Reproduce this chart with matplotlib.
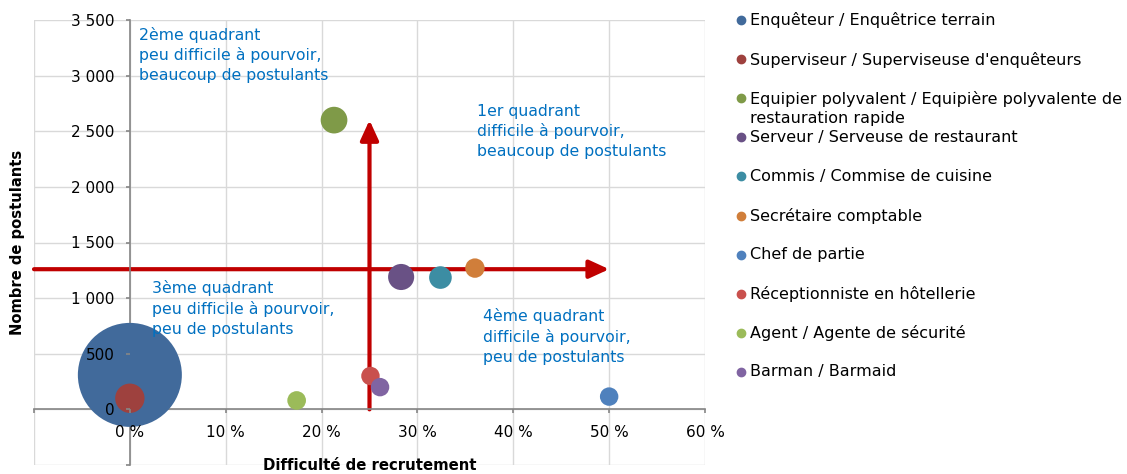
import matplotlib
matplotlib.use("Agg")
import matplotlib.pyplot as plt
from matplotlib.lines import Line2D
from matplotlib.ticker import FuncFormatter

plt.rcParams['font.family'] = ['DejaVu Sans']

# ---- data ----
metiers = [
    "Enquêteur / Enquêtrice terrain",
    "Superviseur / Superviseuse d'enquêteurs",
    "Equipier polyvalent / Equipière polyvalente de\nrestauration rapide",
    "Serveur / Serveuse de restaurant",
    "Commis / Commise de cuisine",
    "Secrétaire comptable",
    "Chef de partie",
    "Réceptionniste en hôtellerie",
    "Agent / Agente de sécurité",
    "Barman / Barmaid",
]
difficulte = [0.0, 0.0, 21.3, 28.3, 32.4, 36.0, 50.0, 25.1, 17.4, 26.1]   # %
postulants = [310, 100, 2600, 1190, 1185, 1270, 115, 300, 80, 200]
taille = [2700, 215, 178, 170, 128, 94, 85, 85, 87, 85]
couleurs = ["#416A9B", "#9E413E", "#7F9A48", "#695185", "#3C8DA3",
            "#D07E3A", "#4F81BD", "#C9504D", "#9BBB59", "#8064A2"]

x_ticks = [-10, 0, 10, 20, 30, 40, 50, 60]
y_ticks = [-500, 0, 500, 1000, 1500, 2000, 2500, 3000, 3500]

seuil_x = 25       # séparation difficulté
seuil_y = 1260     # séparation postulants

quadrants = [
    ("2ème quadrant\npeu difficile à pourvoir,\nbeaucoup de postulants", 0.97, 3440),
    ("1er quadrant\ndifficile à pourvoir,\nbeaucoup de postulants", 36.2, 2748),
    ("3ème quadrant\npeu difficile à pourvoir,\npeu de postulants", 2.3, 1160),
    ("4ème quadrant\ndifficile à pourvoir,\npeu de postulants", 36.8, 907),
]

# ---- figure ----
W, H = 1127, 474
fig = plt.figure(figsize=(W / 100, H / 100), dpi=100)
ax = fig.add_axes([34 / W, 1 - 465 / H, (705 - 34) / W, (465 - 20) / H])

ax.set_xlim(-10, 60)
ax.set_ylim(-500, 3500)

# gridlines
for xv in x_ticks:
    ax.axvline(xv, color="#D9D9D9", lw=1, zorder=0.5)
for yv in y_ticks:
    ax.axhline(yv, color="#D9D9D9", lw=1, zorder=0.5)

# axes crossing at origin
for s in ["top", "right"]:
    ax.spines[s].set_visible(False)
ax.spines["left"].set_position(("data", 0))
ax.spines["bottom"].set_position(("data", 0))
for s in ["left", "bottom"]:
    ax.spines[s].set_color("#868686")
    ax.spines[s].set_linewidth(1.2)
    ax.spines[s].set_zorder(2.5)

ax.set_xticks(x_ticks)
ax.set_yticks(y_ticks)
ax.xaxis.set_major_formatter(FuncFormatter(lambda v, p: "" if v < 0 else f"{int(v)} %"))
ax.yaxis.set_major_formatter(FuncFormatter(
    lambda v, p: "" if v < 0 else f"{int(v):,}".replace(",", " ")))
ax.tick_params(axis="both", direction="out", length=3, width=1.2, color="#868686",
               labelsize=11, labelcolor="black")
ax.tick_params(axis="x", pad=8)
ax.tick_params(axis="y", pad=8)
ax.xaxis.set_zorder(4)
ax.yaxis.set_zorder(4)

# red arrows
ax.annotate("", xy=(50, seuil_y), xytext=(-10, seuil_y),
            arrowprops=dict(arrowstyle="-|>,head_length=1.2,head_width=0.55",
                            color="#C00000", lw=3, shrinkA=0, shrinkB=0), zorder=2)
ax.annotate("", xy=(seuil_x, 2600), xytext=(seuil_x, 0),
            arrowprops=dict(arrowstyle="-|>,head_length=1.2,head_width=0.55",
                            color="#C00000", lw=3, shrinkA=0, shrinkB=0), zorder=2)

# bubbles
k = (104 * 0.72) ** 2 / max(taille)
ax.scatter(difficulte, postulants, s=[t * k for t in taille], c=couleurs,
           linewidths=0, zorder=3, clip_on=False)

# quadrant texts
for txt, xq, yq in quadrants:
    ax.text(xq, yq, txt, color="#0070C0", fontsize=11.3, va="top", ha="left",
            linespacing=1.37, zorder=5)

# axis titles
fig.text(18 / W, 1 - 242 / H, "Nombre de postulants", rotation=90, fontsize=10.6,
         fontweight="bold", ha="center", va="center")
fig.text(370 / W, 1 - 465 / H, "Difficulté de recrutement", fontsize=10.7,
         fontweight="bold", ha="center", va="center")

# legend (manual, Excel style)
top = 20
step = 39.1
for i, (lab, col) in enumerate(zip(metiers, couleurs)):
    yc = top + i * step
    fig.add_artist(Line2D([741 / W], [1 - yc / H], marker="o", markersize=6,
                          color=col, linestyle="none", transform=fig.transFigure))
    fig.text(750 / W, 1 - (yc - 7.5) / H, lab, fontsize=11.5, va="top", ha="left",
             linespacing=1.33)

fig.savefig("out.png", dpi=100)
